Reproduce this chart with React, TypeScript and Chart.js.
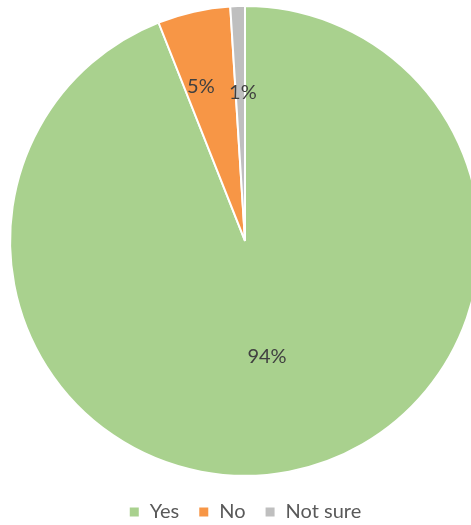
import React, { useEffect, useRef } from "react";
import { Chart, registerables } from "chart.js";

Chart.register(...registerables);

const categories = ["Yes", "No", "Not sure"];
const values = [94, 5, 1];
const colors = ["#A9D18E", "#F79646", "#BFBFBF"];
const labelRadius = [0.5, 0.684, 0.632];
const labelAngleShift = [0, -0.058, 0.017];

const sliceLabels = {
  id: "sliceLabels",
  afterDatasetsDraw(chart: any) {
    const meta = chart.getDatasetMeta(0);
    const ctx = chart.ctx;
    const total = values.reduce((a, b) => a + b, 0);
    ctx.save();
    ctx.font = "20px Lato";
    ctx.fillStyle = "#404040";
    ctx.textAlign = "center";
    ctx.textBaseline = "middle";
    meta.data.forEach((arc: any, i: number) => {
      const p = arc.getProps(["x", "y", "startAngle", "endAngle", "outerRadius"], true);
      const mid = (p.startAngle + p.endAngle) / 2 + labelAngleShift[i];
      const r = p.outerRadius * labelRadius[i];
      const txt = Math.round((values[i] / total) * 100) + "%";
      ctx.fillText(txt, p.x + Math.cos(mid) * r, p.y + Math.sin(mid) * r);
    });
    ctx.restore();
  },
};

export default function App() {
  const ref = useRef<HTMLCanvasElement>(null);
  useEffect(() => {
    if (!ref.current) return;
    const chart = new Chart(ref.current, {
      type: "pie",
      data: {
        labels: categories,
        datasets: [
          {
            data: values,
            backgroundColor: colors,
            borderColor: "#FFFFFF",
            borderWidth: 2,
          },
        ],
      },
      options: {
        responsive: false,
        animation: false,
        devicePixelRatio: 1,
        layout: { padding: { top: 5, left: 0, right: 0, bottom: 0 } },
        plugins: {
          tooltip: { enabled: false },
          legend: {
            position: "bottom",
            title: {
              display: true,
              text: "",
              font: { size: 1 },
              padding: { top: 0, bottom: 5 },
            },
            labels: {
              boxWidth: 11,
              boxHeight: 11,
              padding: 19,
              color: "#595959",
              font: { family: "Lato", size: 20 },
            },
          },
        },
      },
      plugins: [sliceLabels],
    });
    return () => chart.destroy();
  }, []);
  return (
    <div
      style={{
        position: "fixed",
        left: 0,
        top: 0,
        width: 471,
        height: 525,
        overflow: "hidden",
        background: "#FFFFFF",
      }}
    >
      <canvas ref={ref} width={490} height={532} style={{ width: 490, height: 532, display: "block" }} />
    </div>
  );
}
